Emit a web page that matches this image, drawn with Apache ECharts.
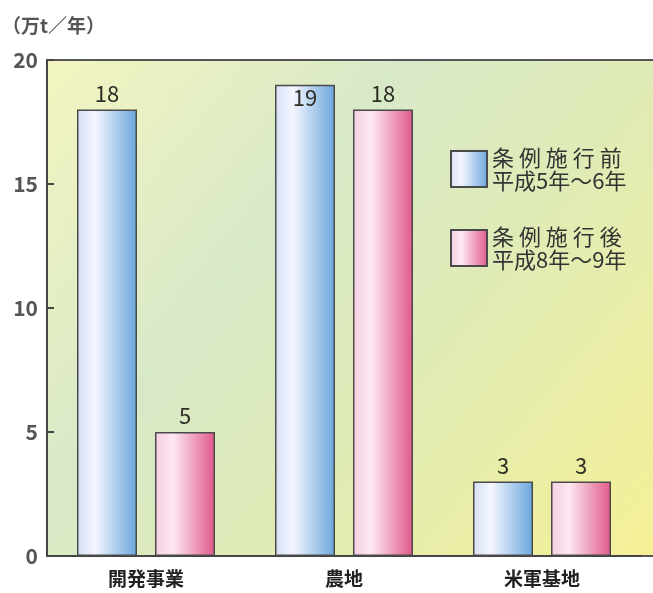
<!DOCTYPE html>
<html><head><meta charset="utf-8">
<script src="https://cdn.jsdelivr.net/npm/echarts@6/dist/echarts.min.js"></script>
<style>html,body{margin:0;padding:0;background:#fff}#c{width:653px;height:593px}</style>
</head><body><div id="c"></div>
<script>
const categories = ['開発事業', '農地', '米軍基地'];
const seriesNames = ['条 例 施 行 前\n平成5年～6年', '条 例 施 行 後\n平成8年～9年'];
const beforeValues = [18, 19, 3];
const afterValues = [5, 18, 3];
const yTicks = [0, 5, 10, 15, 20];

const FONT = '"Noto Sans CJK JP", "Noto Sans", sans-serif';
const chart = echarts.init(document.getElementById('c'));

function grad(c0, c1, c2) {
  return new echarts.graphic.LinearGradient(0, 0, 1, 0, [
    {offset: 0, color: c0}, {offset: 0.3, color: c1}, {offset: 1, color: c2}
  ]);
}
const blue = grad('#d6e0f4', '#f4f6ff', '#6aa6dc');
const pink = grad('#f6cfe0', '#fde8f2', '#e0588a');

function toData(arr) {
  return arr.map(v => v >= 19 ? {value: v, label: {position: 'insideTop', distance: 2}} : v);
}

const labelStyle = {show: true, position: 'top', distance: 5, fontSize: 22, fontWeight: 'normal', color: '#2f2f25', fontFamily: FONT};

chart.setOption({
  animation: false,
  textStyle: {fontFamily: FONT},
  title: {text: '（万t／年）', left: -3, top: 11, textStyle: {fontSize: 19, fontWeight: 'bold', color: '#555', fontFamily: FONT}},
  graphic: [{
    type: 'rect', z: -10, silent: true,
    shape: {x: 47, y: 60, width: 612, height: 496},
    style: {
      fill: new echarts.graphic.LinearGradient(0, 0, 1, 1, [
        {offset: 0, color: '#f4f5c0'},
        {offset: 0.35, color: '#d8e9c8'},
        {offset: 0.6, color: '#dfebb6'},
        {offset: 1, color: '#f6f096'}
      ]),
      stroke: '#555', lineWidth: 2
    }
  }],
  legend: {
    orient: 'vertical', left: 445, top: 141,
    itemWidth: 36, itemHeight: 36, itemGap: 33, icon: 'rect',
    textStyle: {fontSize: 22, lineHeight: 23, color: '#333', fontFamily: FONT},
    data: seriesNames
  },
  grid: {left: 47, right: 12, top: 60, bottom: 37, containLabel: false},
  xAxis: {
    type: 'category', data: categories,
    axisLine: {lineStyle: {color: '#444', width: 2}},
    axisTick: {show: false},
    axisLabel: {fontSize: 19, fontWeight: 'bold', color: '#222', margin: 13, fontFamily: FONT}
  },
  yAxis: {
    type: 'value', min: 0, max: 20, interval: 5,
    axisLine: {show: true, lineStyle: {color: '#444', width: 2}},
    axisTick: {show: true, inside: true, length: 7, lineStyle: {color: '#444', width: 2}},
    splitLine: {show: false},
    axisLabel: {fontSize: 21, fontWeight: 'bold', color: '#555', margin: 9, fontFamily: FONT,
      formatter: v => yTicks.includes(v) ? String(v) : ''}
  },
  series: [
    {name: seriesNames[0], type: 'bar', data: toData(beforeValues), barWidth: 60, barGap: '30%',
      itemStyle: {color: blue, borderColor: '#4a4a4a', borderWidth: 1.5}, label: labelStyle},
    {name: seriesNames[1], type: 'bar', data: toData(afterValues), barWidth: 60, barGap: '30%',
      itemStyle: {color: pink, borderColor: '#4a4a4a', borderWidth: 1.5}, label: labelStyle}
  ]
});
</script></body></html>
